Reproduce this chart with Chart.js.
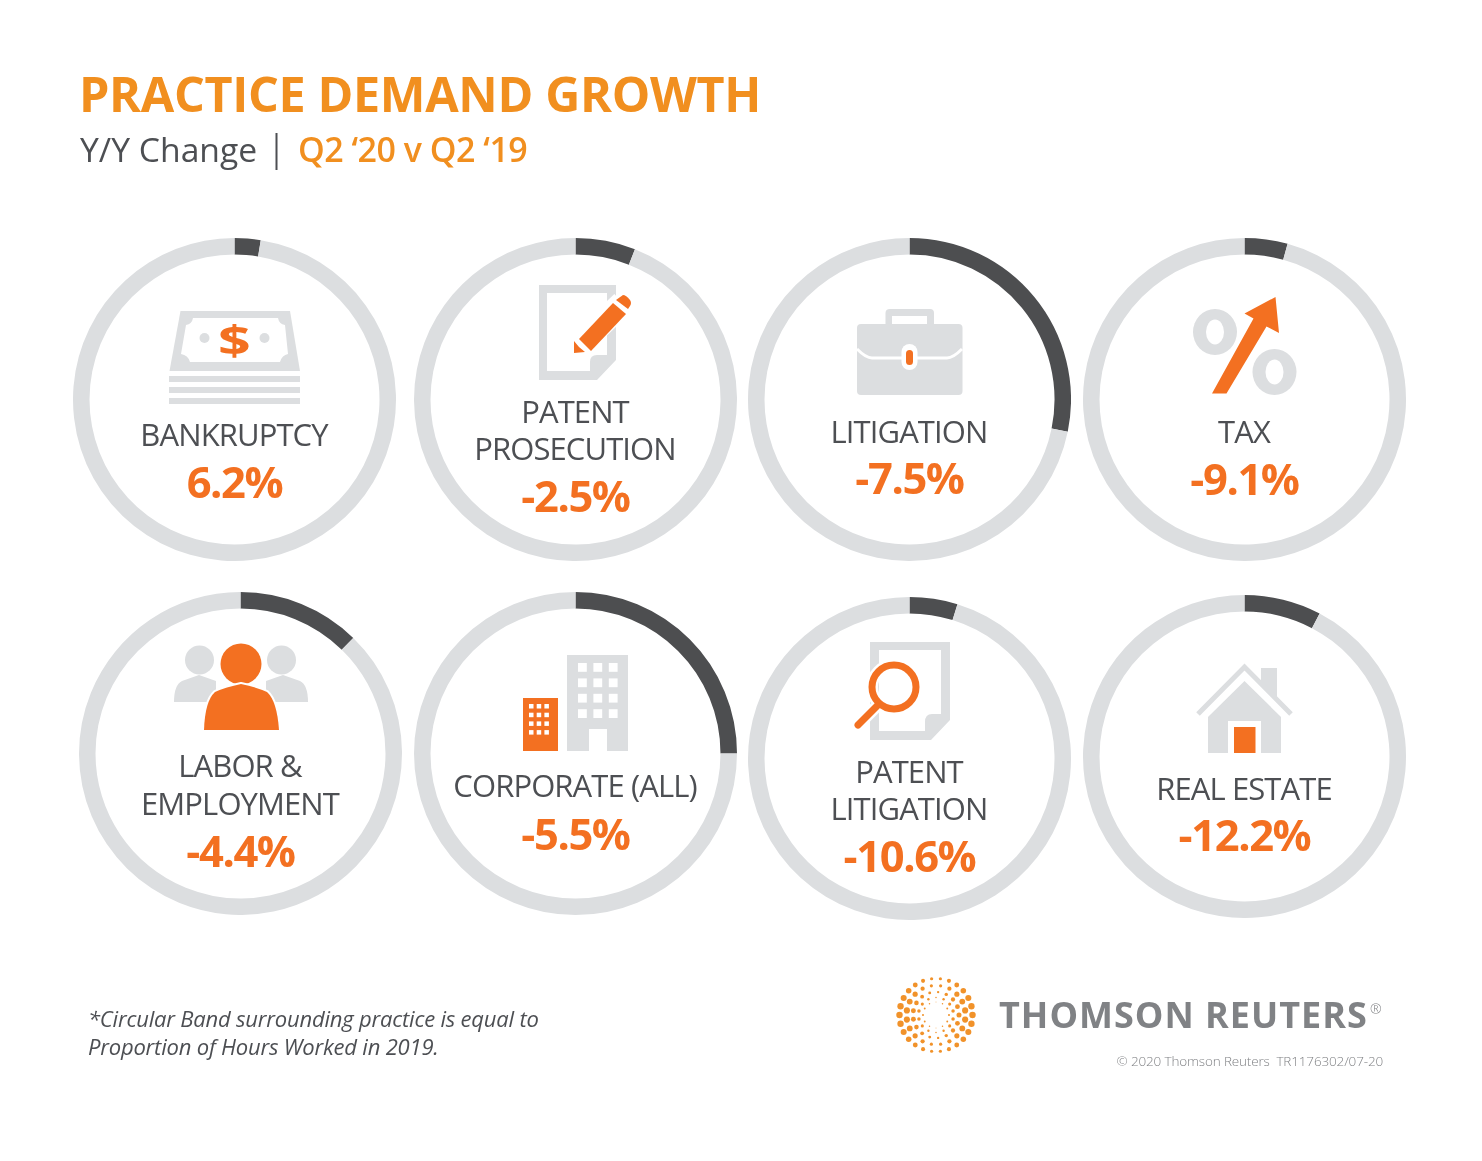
<!DOCTYPE html>
<html>
<head>
<meta charset="utf-8">
<title>Practice Demand Growth</title>
<script src="https://cdn.jsdelivr.net/npm/chart.js@4"></script>
<style>
html, body { margin: 0; padding: 0; background: #fff; }
#page { position: relative; width: 1482px; height: 1161px; overflow: hidden; font-family: "Open Sans", sans-serif; }
#page canvas { position: absolute; }
#overlay { position: absolute; left: 0; top: 0; }
</style>
</head>
<body>
<div id="page">
<svg id="overlay" width="1482" height="1161" viewBox="0 0 1482 1161">
  <!-- bankruptcy -->
  <g fill="#dcdee0">
    <path d="M180.5 311H290L300 371H169.5Z"/>
    <rect x="169" y="376" width="131" height="6"/>
    <rect x="169" y="387" width="131" height="6"/>
    <rect x="169" y="398" width="131" height="6"/>
  </g>
  <path d="M193 318H278Q279 324 285 325L288 354Q282 355 280 362H190Q188 355 181 354L186 325Q192 324 193 318Z" fill="#fff"/>
  <ellipse cx="204.500" cy="338" rx="5" ry="5" fill="#dcdee0"/>
  <ellipse cx="264.500" cy="338" rx="5" ry="5" fill="#dcdee0"/>
  <text transform="translate(234.500 355) scale(1.4 1)" text-anchor="middle" font-size="41" font-weight="700" fill="#f37021">$</text>

  <!-- patent prosecution -->
  <path d="M539 285H616V360L597 380H539ZM547 293V371H590V362Q590 355 597 355H607V293Z" fill="#dcdee0" fill-rule="evenodd"/>
  <line x1="582" y1="342" x2="623" y2="303" stroke="#fff" stroke-width="25"/>
  <path d="M574 353V341L579 347L585 352Z" fill="#f37021"/>
  <path d="M579 339L613 303L626 314L591 351Z" fill="#f37021"/>
  <path d="M616 300L623 295Q626 295 630 300Q632 303 630 306L628 309Z" fill="#f37021"/>

  <!-- litigation -->
  <path d="M885.500 326V313Q885.500 309 890 309H930Q934 309 934 313V326H927V316H892V326Z" fill="#dcdee0"/>
  <rect x="857" y="324" width="105.500" height="71" rx="4" fill="#dcdee0"/>
  <path d="M857 349Q866 358 872 358H947Q953 358 962 349" fill="none" stroke="#fff" stroke-width="3"/>
  <rect x="901.500" y="344" width="16" height="26" rx="8" fill="#fff"/>
  <rect x="906" y="350" width="7" height="15" rx="3.500" fill="#f37021"/>

  <!-- tax -->
  <ellipse cx="1215" cy="332" rx="22" ry="23" fill="#dcdee0"/>
  <ellipse cx="1215" cy="332" rx="9" ry="12.500" fill="#fff"/>
  <ellipse cx="1274.500" cy="372" rx="22" ry="23" fill="#dcdee0"/>
  <ellipse cx="1274.500" cy="372" rx="9" ry="12.500" fill="#fff"/>
  <path d="M1212 393.500H1226.500L1266.500 326.500L1279 333L1275.500 297L1244.500 313.500L1253.500 318.500Z" fill="#f37021"/>

  <!-- labor and employment -->
  <g fill="#dcdee0">
    <circle cx="199.500" cy="660" r="14.500"/>
    <circle cx="281.500" cy="660" r="14.500"/>
    <path d="M174 702Q174 685 182 681L199 675L216 681V702Z"/>
    <path d="M308 702Q308 685 300 681L283 675L266 681V702Z"/>
  </g>
  <g fill="#f37021" stroke="#fff" stroke-width="4" paint-order="stroke">
    <circle cx="241" cy="664" r="20.500"/>
    <path d="M204 730Q205 701 215 692Q226 687 241 684Q256 687 267 692Q277 701 279 730Z"/>
  </g>

  <!-- corporate -->
  <rect x="523" y="698" width="35" height="53" fill="#f37021"/>
  <g id="smallWindows" fill="#fff"></g>
  <rect x="567" y="655" width="61" height="96" fill="#dcdee0"/>
  <g id="largeWindows" fill="#fff"></g>
  <rect x="589" y="729" width="18" height="22" fill="#fff"/>

  <!-- patent litigation -->
  <path d="M870 642H950V720L931 740H870ZM879 650V731H925V722Q925 714 932 714H941V650Z" fill="#dcdee0" fill-rule="evenodd"/>
  <g fill="none" stroke="#fff" stroke-width="12">
    <circle cx="894" cy="687" r="22"/>
    <line x1="877" y1="706" x2="858" y2="725"/>
  </g>
  <g fill="none" stroke="#f37021" stroke-width="7" stroke-linecap="round">
    <circle cx="894" cy="687" r="22"/>
    <line x1="877" y1="706" x2="858" y2="725"/>
  </g>

  <!-- real estate -->
  <path d="M1198 715L1244.500 667L1291 715" fill="none" stroke="#fff" stroke-width="13"/>
  <path d="M1261 668H1277V700L1261 684Z" fill="#dcdee0"/>
  <path d="M1198 714L1244.500 667L1291 714" fill="none" stroke="#dcdee0" stroke-width="5"/>
  <path d="M1244.500 681L1281 717V753H1208V717Z" fill="#dcdee0"/>
  <rect x="1228" y="721" width="33" height="32" fill="#fff"/>
  <rect x="1234" y="727" width="21.500" height="26" fill="#f37021"/>

  <!-- header and footer -->
  <text x="79" y="112" font-size="48.500" font-weight="700" fill="#f18f1f" letter-spacing="-0.35">PRACTICE DEMAND GROWTH</text>
  <text x="80" y="161.500" font-size="33.700" fill="#4d4f53">Y/Y Change</text>
  <rect x="275.500" y="133" width="2" height="37" fill="#4d4f53"/>
  <text x="298" y="161.500" font-size="34" font-weight="600" fill="#f18f1f" letter-spacing="-0.5">Q2 ‘20 v Q2 ‘19</text>
  <text x="88" y="1027" font-size="22" font-style="italic" fill="#4d4f53" letter-spacing="-0.2">*Circular Band surrounding practice is equal to</text>
  <text x="88" y="1055" font-size="22" font-style="italic" fill="#4d4f53" letter-spacing="-0.2">Proportion of Hours Worked in 2019.</text>
  <g id="logoDots" fill="#f1922a"></g>
  <text x="999" y="1028" font-size="36" font-weight="700" fill="#808285" letter-spacing="1">THOMSON REUTERS</text>
  <text x="1370" y="1014" font-size="14" font-weight="300" fill="#808285">®</text>
  <text x="1383" y="1066" text-anchor="end" font-size="13.500" font-weight="300" fill="#808285" letter-spacing="-0.15">© 2020 Thomson Reuters&#160;&#160;TR1176302/07-20</text>
  <g id="ringText"></g>
</svg>
</div>
<script>
const practices = ['BANKRUPTCY', 'PATENT PROSECUTION', 'LITIGATION', 'TAX', 'LABOR & EMPLOYMENT', 'CORPORATE (ALL)', 'PATENT LITIGATION', 'REAL ESTATE'];
const demandGrowth = [6.2, -2.5, -7.5, -9.1, -4.4, -5.5, -10.6, -12.2];
const hoursShare = [2.6, 6, 28.2, 4.3, 12.3, 25, 4.8, 7.7];

// where each ring sits on the page
const ringX = [234.5, 575.5, 909.5, 1244.5, 240.5, 575.5, 909.5, 1244.5];
const ringY = [399.5, 399.5, 399.5, 399.5, 753.5, 753.5, 758.5, 756.5];
const labelBaselines = [[446], [423, 460], [443], [443], [777, 815], [797], [783, 820], [800]];
const valueBaselines = [498, 512, 494, 495, 867, 850, 872, 851];
const labelBreaks = { 'PATENT PROSECUTION': ['PATENT', 'PROSECUTION'], 'LABOR & EMPLOYMENT': ['LABOR &', 'EMPLOYMENT'], 'PATENT LITIGATION': ['PATENT', 'LITIGATION'] };

const ringSize = 323;
const svgNS = 'http://www.w3.org/2000/svg';
const page = document.getElementById('page');
const overlay = document.getElementById('overlay');

function addText(parent, str, x, y, size, weight, fill, spacing) {
    const t = document.createElementNS(svgNS, 'text');
    t.setAttribute('x', x);
    t.setAttribute('y', y);
    t.setAttribute('text-anchor', 'middle');
    t.setAttribute('font-size', size);
    t.setAttribute('font-weight', weight);
    t.setAttribute('fill', fill);
    t.setAttribute('letter-spacing', spacing);
    t.textContent = str;
    parent.appendChild(t);
}

function addRect(parent, x, y, w, h) {
    const r = document.createElementNS(svgNS, 'rect');
    r.setAttribute('x', x);
    r.setAttribute('y', y);
    r.setAttribute('width', w);
    r.setAttribute('height', h);
    parent.appendChild(r);
}

practices.forEach((name, i) => {
    const canvas = document.createElement('canvas');
    canvas.width = ringSize;
    canvas.height = ringSize;
    canvas.style.left = (ringX[i] - ringSize / 2) + 'px';
    canvas.style.top = (ringY[i] - ringSize / 2) + 'px';
    page.insertBefore(canvas, overlay);

    new Chart(canvas, {
        type: 'doughnut',
        data: {
            labels: [name, 'Other practices'],
            datasets: [{
                data: [hoursShare[i], 100 - hoursShare[i]],
                backgroundColor: ['#4d4e50', '#dcdee0'],
                borderWidth: 0
            }]
        },
        options: {
            responsive: false,
            animation: false,
            cutout: 145,
            plugins: { legend: { display: false }, tooltip: { enabled: false } }
        }
    });

    const ringText = document.getElementById('ringText');
    const lines = labelBreaks[name] || [name];
    lines.forEach((line, j) => {
        addText(ringText, line, ringX[i] - 0.5, labelBaselines[i][j], 31, 400, '#4d4f53', -0.9);
    });
    const value = demandGrowth[i].toFixed(1) + '%';
    addText(ringText, value, ringX[i], valueBaselines[i], 43.5, 700, '#f37021', -1.4);
});

// building windows
const smallWindows = document.getElementById('smallWindows');
for (let row = 0; row < 4; row++) {
    for (let col = 0; col < 3; col++) {
        addRect(smallWindows, 529 + col * 7.7, 704 + row * 8.7, 4.5, 4.5);
    }
}
const largeWindows = document.getElementById('largeWindows');
for (let row = 0; row < 4; row++) {
    for (let col = 0; col < 3; col++) {
        addRect(largeWindows, 578 + col * 15.4, 663 + row * 15.4, 8.8, 8.8);
    }
}

// logo dots, rings of dots growing toward the left and right sides
const logoDots = document.getElementById('logoDots');
const dotRings = [[36.5, 26, 1.1], [29.5, 20, 1.05], [23, 17, 0.85], [17.5, 14, 0.6], [13, 12, 0.35]];
dotRings.forEach((ring, k) => {
    for (let n = 0; n < ring[1]; n++) {
        const a = (n + k * 0.5) / ring[1] * Math.PI * 2;
        const c = document.createElementNS(svgNS, 'circle');
        c.setAttribute('cx', 936 + Math.cos(a) * ring[0]);
        c.setAttribute('cy', 1015 + Math.sin(a) * ring[0]);
        c.setAttribute('r', ring[2] * (1.25 + 1.7 * Math.abs(Math.cos(a))));
        logoDots.appendChild(c);
    }
});
</script>
</body>
</html>
